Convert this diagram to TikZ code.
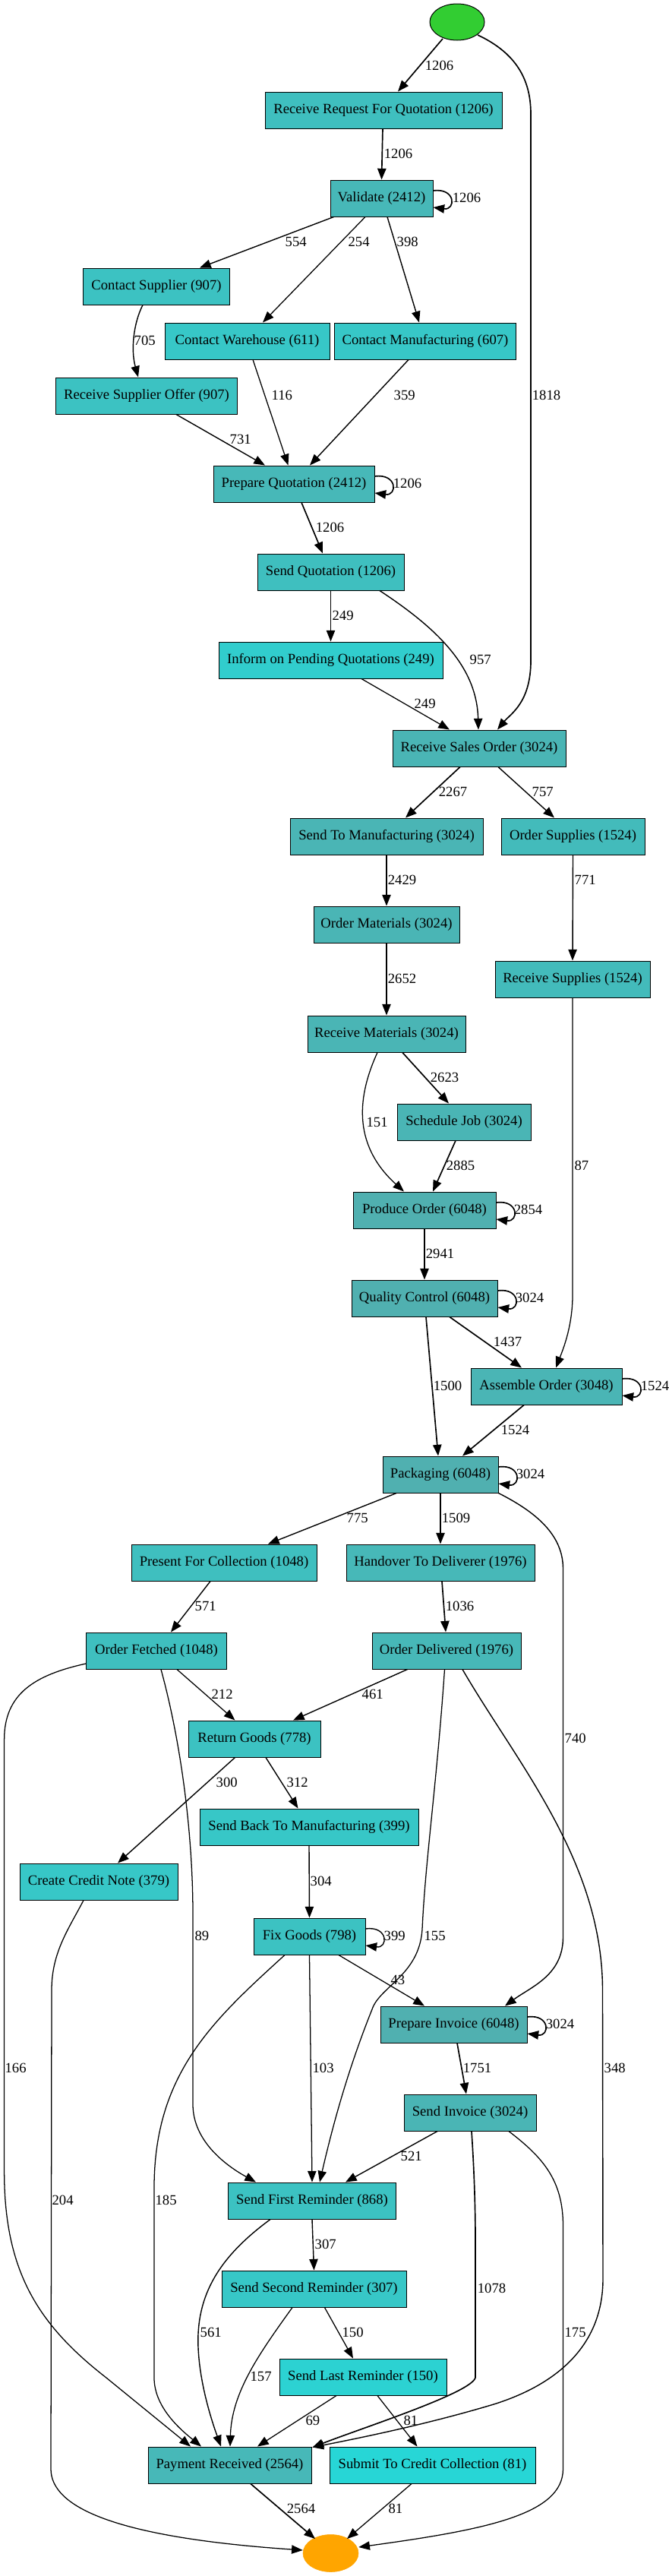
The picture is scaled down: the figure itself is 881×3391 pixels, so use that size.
\documentclass[tikz,border=0pt]{standalone}
\usepackage{fontspec}
\setmainfont{Liberation Serif}
\usetikzlibrary{arrows.meta,calc,shapes.geometric}
\definecolor{cStart}{HTML}{32CD32}
\definecolor{cEnd}{HTML}{FFA500}
\definecolor{k1}{HTML}{50B0B0}
\definecolor{k2}{HTML}{4AB5B5}
\definecolor{k3}{HTML}{47B8B8}
\definecolor{k4}{HTML}{43BBBB}
\definecolor{k5}{HTML}{3FBFBF}
\definecolor{k6}{HTML}{3CC2C2}
\definecolor{k7}{HTML}{37C7C7}
\definecolor{k8}{HTML}{31CDCD}
\definecolor{k9}{HTML}{2CD2D2}
\definecolor{k10}{HTML}{27D6D6}
\begin{document}
\begin{tikzpicture}[x=0.75pt,y=-0.75pt,
  act/.style={draw=black, line width=0.75pt, rectangle, minimum width=#1*0.75pt,
    minimum height=36pt, inner xsep=1pt, inner ysep=0pt,
    font=\fontsize{14pt}{16pt}\selectfont},
  lbl/.style={font=\fontsize{14pt}{16pt}\selectfont, inner sep=0pt, anchor=west},
  arr/.style={-{Triangle[length=11pt,width=8.5pt]}},
  e1/.style={arr, line width=0.95pt},
  e2/.style={arr, line width=1.05pt},
  e3/.style={arr, line width=1.25pt}]
\useasboundingbox (0,0) rectangle (881,3391);
\fill[white] (0,0) rectangle (881,3391);

% nodes
\node[ellipse, draw=black, line width=0.75pt, fill=cStart, minimum width=72*0.75pt, minimum height=48*0.75pt, inner sep=0pt] (start) at (602,29) {};
\node[act=312, fill=k5] (rrfq) at (505,145) {Receive Request For Quotation (1206)};
\node[act=135, fill=k3] (val) at (502.5,261) {Validate (2412)};
\node[act=193, fill=k6] (cs) at (206,377) {Contact Supplier (907)};
\node[act=217, fill=k7] (cw) at (325.5,449) {Contact Warehouse (611)};
\node[act=239, fill=k7] (cm) at (560,449) {Contact Manufacturing (607)};
\node[act=239, fill=k6] (rsoff) at (193,521) {Receive Supplier Offer (907)};
\node[act=212, fill=k3] (pq) at (387,637) {Prepare Quotation (2412)};
\node[act=193, fill=k5] (sq) at (435.5,753) {Send Quotation (1206)};
\node[act=295, fill=k8] (inf) at (435.5,869) {Inform on Pending Quotations (249)};
\node[act=228, fill=k2] (rso) at (631,985) {Receive Sales Order (3024)};
\node[act=254, fill=k2] (stm) at (509,1101) {Send To Manufacturing (3024)};
\node[act=189, fill=k4] (os) at (754.5,1101) {Order Supplies (1524)};
\node[act=192, fill=k2] (om) at (509,1217) {Order Materials (3024)};
\node[act=204, fill=k4] (rs) at (754,1289) {Receive Supplies (1524)};
\node[act=208, fill=k2] (rm) at (509,1361) {Receive Materials (3024)};
\node[act=176, fill=k2] (sj) at (611,1477) {Schedule Job (3024)};
\node[act=188, fill=k1] (po) at (559,1593) {Produce Order (6048)};
\node[act=192, fill=k1] (qc) at (559,1709) {Quality Control (6048)};
\node[act=199, fill=k2] (ao) at (719.5,1825) {Assemble Order (3048)};
\node[act=152, fill=k1] (pk) at (580,1941) {Packaging (6048)};
\node[act=244, fill=k5] (pfc) at (295,2057) {Present For Collection (1048)};
\node[act=248, fill=k3] (hd) at (580,2057) {Handover To Deliverer (1976)};
\node[act=185, fill=k5] (of) at (206,2173) {Order Fetched (1048)};
\node[act=196, fill=k3] (od) at (588,2173) {Order Delivered (1976)};
\node[act=174, fill=k6] (rg) at (335,2289) {Return Goods (778)};
\node[act=288, fill=k7] (sbtm) at (407,2405) {Send Back To Manufacturing (399)};
\node[act=208, fill=k7] (ccn) at (130,2477) {Create Credit Note (379)};
\node[act=147, fill=k6] (fg) at (407.5,2549) {Fix Goods (798)};
\node[act=193, fill=k1] (pi) at (597.5,2665) {Prepare Invoice (6048)};
\node[act=174, fill=k2] (si) at (619,2781) {Send Invoice (3024)};
\node[act=221, fill=k6] (sfr) at (411,2897) {Send First Reminder (868)};
\node[act=243, fill=k7] (ssr) at (413.5,3013) {Send Second Reminder (307)};
\node[act=220, fill=k9] (slr) at (478,3129) {Send Last Reminder (150)};
\node[act=215, fill=k3] (pr) at (302.5,3245) {Payment Received (2564)};
\node[act=271, fill=k10] (scc) at (569.5,3245) {Submit To Credit Collection (81)};
\node[ellipse, draw=cEnd, fill=cEnd, minimum width=73*0.75pt, minimum height=49*0.75pt, inner sep=0pt] (end) at (435.5,3361) {};

% edges
\draw[e3] ($(start)+(-19,22)$) -- ($(rrfq.north)+(19,0)$) node[lbl] at (559,86) {1206};
\draw[e3] ($(start)+(27,17)$) .. controls (680,70) and (699,105) .. (699,150) -- (699,870)
  .. controls (699,925) and (672,940) .. ($(rso.north)+(24,0)$) node[lbl] at (700,520) {1818};
\draw[e3] ($(rrfq.south)+(-1,0)$) -- (val.north) node[lbl] at (505,202) {1206};
\draw[e3] ($(val.east)+(0,-10)$) .. controls ($(val.east)+(30,-14)$) and ($(val.east)+(30,16)$) .. ($(val.east)+(0,12)$) node[lbl] at (595,260) {1206};
\draw[e2] ($(val.south)+(-63,0)$) -- ($(cs.north)+(57,0)$) node[lbl] at (375,318) {554};
\draw[e1] ($(val.south)+(-21.5,0)$) -- ($(cw.north)+(20.5,0)$) node[lbl] at (458,318) {254};
\draw[e2] ($(val.south)+(7.5,0)$) -- ($(cm.north)+(-8,0)$) node[lbl] at (522,318) {398};
\draw[e2] ($(cs.south)+(-18,0)$) .. controls (176,425) and (172,460) .. ($(rsoff.north)+(-11,0)$) node[lbl] at (176,448) {705};
\draw[e1] ($(cw.south)+(7.5,0)$) -- ($(pq.north)+(-7.5,0)$) node[lbl] at (357,520) {116};
\draw[e2] ($(cm.south)+(-22,0)$) -- ($(pq.north)+(21,0)$) node[lbl] at (518,520) {359};
\draw[e2] ($(rsoff.south)+(39,0)$) -- ($(pq.north)+(-38,0)$) node[lbl] at (302,578) {731};
\draw[e3] ($(pq.east)+(0,-10)$) .. controls ($(pq.east)+(30,-14)$) and ($(pq.east)+(30,16)$) .. ($(pq.east)+(0,12)$) node[lbl] at (517,636) {1206};
\draw[e3] ($(pq.south)+(10,0)$) -- ($(sq.north)+(-10.5,0)$) node[lbl] at (415,694) {1206};
\draw[e1] (sq.south) -- (inf.north) node[lbl] at (437,810) {249};
\draw[e2] ($(sq.south)+(64.5,0)$) .. controls (580,830) and (628,880) .. ($(rso.north)+(-1,0)$) node[lbl] at (618,868) {957};
\draw[e1] ($(inf.south)+(40.5,0)$) -- ($(rso.north)+(-39,0)$) node[lbl] at (545,926) {249};
\draw[e3] ($(rso.south)+(-25,0)$) -- ($(stm.north)+(25,0)$) node[lbl] at (577,1042) {2267};
\draw[e2] ($(rso.south)+(25,0)$) -- ($(os.north)+(-24.5,0)$) node[lbl] at (700,1042) {757};
\draw[e3] (stm.south) -- (om.north) node[lbl] at (510,1158) {2429};
\draw[e2] (os.south) -- (rs.north) node[lbl] at (756,1158) {771};
\draw[e3] (om.south) -- (rm.north) node[lbl] at (510,1288) {2652};
\draw[e3] ($(rm.south)+(21,0)$) -- ($(sj.north)+(-20,0)$) node[lbl] at (566,1418) {2623};
\draw[e1] ($(rm.south)+(-12,0)$) .. controls (472,1440) and (462,1505) .. ($(po.north)+(-27,0)$) node[lbl] at (482,1477) {151};
\draw[e3] ($(sj.south)+(-11,0)$) -- ($(po.north)+(11,0)$) node[lbl] at (587,1534) {2885};
\draw[e3] ($(po.east)+(0,-10)$) .. controls ($(po.east)+(30,-14)$) and ($(po.east)+(30,16)$) .. ($(po.east)+(0,12)$) node[lbl] at (676,1592) {2854};
\draw[e1] (rs.south) -- (754,1705) .. controls (754,1745) and (742,1775) .. ($(ao.north)+(12.5,0)$) node[lbl] at (756,1534) {87};
\draw[e3] (po.south) -- (qc.north) node[lbl] at (560,1650) {2941};
\draw[e3] ($(qc.east)+(0,-10)$) .. controls ($(qc.east)+(30,-14)$) and ($(qc.east)+(30,16)$) .. ($(qc.east)+(0,12)$) node[lbl] at (678,1708) {3024};
\draw[e3] ($(qc.south)+(33,0)$) -- ($(ao.north)+(-32.5,0)$) node[lbl] at (649,1766) {1437};
\draw[e3] ($(qc.south)+(2,0)$) -- ($(pk.north)+(-3,0)$) node[lbl] at (570,1824) {1500};
\draw[e3] ($(ao.east)+(0,-10)$) .. controls ($(ao.east)+(30,-14)$) and ($(ao.east)+(30,16)$) .. ($(ao.east)+(0,12)$) node[lbl] at (843,1824) {1524};
\draw[e3] ($(ao.south)+(-29.5,0)$) -- ($(pk.north)+(29,0)$) node[lbl] at (659,1882) {1524};
\draw[e3] ($(pk.east)+(0,-10)$) .. controls ($(pk.east)+(30,-14)$) and ($(pk.east)+(30,16)$) .. ($(pk.east)+(0,12)$) node[lbl] at (679,1940) {3024};
\draw[e2] ($(pk.south)+(-58,0)$) -- ($(pfc.north)+(58,0)$) node[lbl] at (456,1998) {775};
\draw[e3] (pk.south) -- (hd.north) node[lbl] at (581,1998) {1509};
\draw[e2] (pk.south east) .. controls (705,1990) and (741.5,2020) .. (741.5,2065) -- (741.5,2550)
  .. controls (741.5,2600) and (700,2615) .. ($(pi.north)+(67.5,0)$) node[lbl] at (743,2288) {740};
\draw[e2] ($(pfc.south)+(-18,0)$) -- ($(of.north)+(19,0)$) node[lbl] at (256,2114) {571};
\draw[e3] ($(hd.south)+(2,0)$) -- ($(od.north)+(-1,0)$) node[lbl] at (586,2114) {1036};
\draw[e1] ($(of.south)+(27,0)$) -- ($(rg.north)+(-25.5,0)$) node[lbl] at (278,2230) {212};
\draw[e2] ($(od.south)+(-51.5,0)$) -- ($(rg.north)+(51,0)$) node[lbl] at (476,2230) {461};
\draw[e1] ($(of.west)+(0,17)$) .. controls (45,2205) and (5.6,2230) .. (5.6,2290) -- (5.6,2860)
  .. controls (6,2990) and (50,3060) .. (140,3130) -- ($(pr.north)+(-51.5,0)$) node[lbl] at (6,2722) {166};
\draw[e1] ($(of.south)+(6,0)$) .. controls (240,2300) and (254,2420) .. (254,2520) -- (254,2770)
  .. controls (254,2820) and (300,2852) .. ($(sfr.north)+(-74,0)$) node[lbl] at (256,2548) {89};
\draw[e1] ($(od.south)+(-2.5,0)$) .. controls (575,2350) and (560,2450) .. (556,2540)
  .. controls (552,2600) and (500,2615) .. (490,2645)
  .. controls (460,2720) and (440,2790) .. ($(sfr.north)+(10,0)$) node[lbl] at (558,2548) {155};
\draw[e2] ($(od.south)+(21,0)$) .. controls (680,2320) and (793.5,2450) .. (793.5,2620) -- (794,3000)
  .. controls (794,3090) and (730,3140) .. (650,3165)
  .. controls (560,3192) and (470,3210) .. ($(pr.north east)+(1,1)$) node[lbl] at (795,2722) {348};
\draw[e2] ($(rg.south)+(-25.5,0)$) -- ($(ccn.north)+(25,0)$) node[lbl] at (284,2346) {300};
\draw[e2] ($(rg.south)+(15,0)$) -- ($(sbtm.north)+(-14.5,0)$) node[lbl] at (377,2346) {312};
\draw[e2] (sbtm.south) -- (fg.north) node[lbl] at (408,2476) {304};
\draw[e1] ($(ccn.south)+(-20,0)$) .. controls (90,2540) and (68,2570) .. (68,2620) -- (67,3250)
  .. controls (67,3300) and (150,3340) .. ($(end.west)+(0,-4)$) node[lbl] at (68,2896) {204};
\draw[e2] ($(fg.east)+(0,-10)$) .. controls ($(fg.east)+(30,-14)$) and ($(fg.east)+(30,16)$) .. ($(fg.east)+(0,12)$) node[lbl] at (505,2548) {399};
\draw[e1] ($(fg.south)+(38.5,0)$) -- ($(pi.north)+(-38.5,0)$) node[lbl] at (514,2606) {43};
\draw[e1] (fg.south) -- (sfr.north) node[lbl] at (411,2722) {103};
\draw[e1] ($(fg.south)+(-32.5,0)$) .. controls (280,2660) and (203,2730) .. (203,2880) -- (203,3130)
  .. controls (203,3170) and (240,3200) .. ($(pr.north)+(-37.5,0)$) node[lbl] at (204,2896) {185};
\draw[e3] ($(pi.east)+(0,-10)$) .. controls ($(pi.east)+(30,-14)$) and ($(pi.east)+(30,16)$) .. ($(pi.east)+(0,12)$) node[lbl] at (718,2664) {3024};
\draw[e3] ($(pi.south)+(4.5,0)$) -- ($(si.north)+(-5,0)$) node[lbl] at (609,2722) {1751};
\draw[e2] ($(si.south)+(-43,0)$) -- ($(sfr.north)+(44,0)$) node[lbl] at (527,2838) {521};
\draw[e3] ($(si.south)+(2,0)$) .. controls (624,2850) and (626,2900) .. (626,2950) -- (626,3130)
  .. controls (620,3150) and (480,3195) .. ($(pr.north east)+(1,1)$) node[lbl] at (628,3012) {1078};
\draw[e1] ($(si.south)+(51,0)$) .. controls (715,2840) and (741.5,2870) .. (741.5,2930) -- (741.5,3250)
  .. controls (741.5,3310) and (640,3330) .. ($(end.east)+(0,-8)$) node[lbl] at (743,3070) {175};
\draw[e2] (sfr.south) -- (ssr.north) node[lbl] at (414,2954) {307};
\draw[e2] ($(sfr.south)+(-55,0)$) .. controls (290,2970) and (258,3020) .. (261,3090)
  .. controls (263,3140) and (280,3190) .. ($(pr.north)+(-11.5,0)$) node[lbl] at (263,3070) {561};
\draw[e1] ($(ssr.south)+(14,0)$) -- ($(slr.north)+(-13,0)$) node[lbl] at (450,3070) {150};
\draw[e1] ($(ssr.south)+(-28.5,0)$) .. controls (340,3100) and (305,3150) .. ($(pr.north)+(0.5,0)$) node[lbl] at (329,3128) {157};
\draw[e1] ($(slr.south)+(-35,0)$) -- ($(pr.north)+(36.5,0)$) node[lbl] at (402,3186) {69};
\draw[e1] ($(slr.south)+(19,0)$) -- ($(scc.north)+(-20,0)$) node[lbl] at (531,3186) {81};
\draw[e3] ($(pr.south)+(27.5,0)$) -- ($(end)+(-20.5,-19)$) node[lbl] at (377,3302) {2564};
\draw[e1] ($(scc.south)+(-27.5,0)$) -- ($(end)+(21.5,-19)$) node[lbl] at (511,3302) {81};
\end{tikzpicture}
\end{document}
